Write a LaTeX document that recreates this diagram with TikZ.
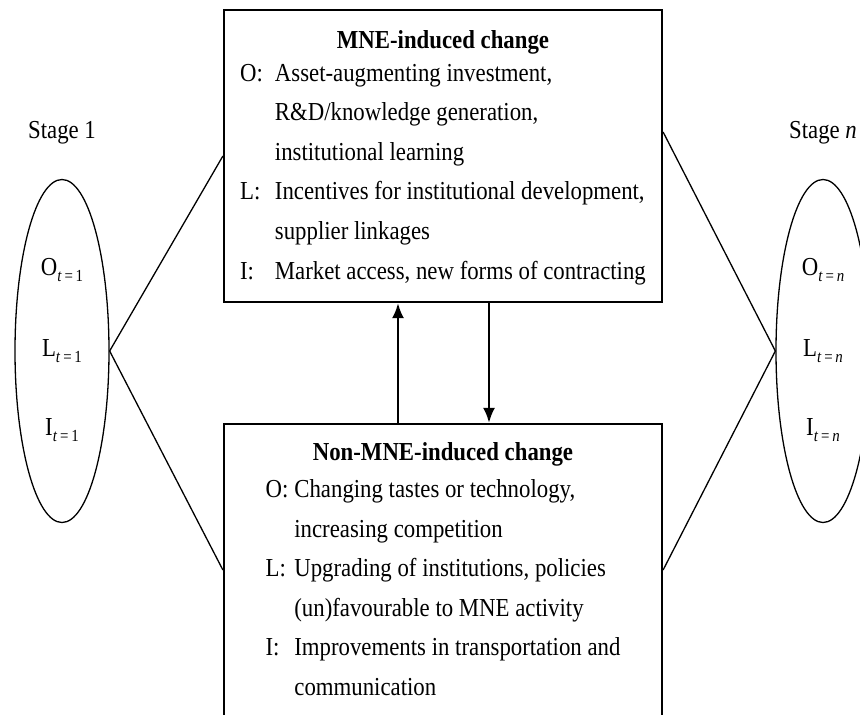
\documentclass[tikz,border=0pt]{standalone}
\usepackage{fontspec}
\setmainfont{Liberation Serif}[FakeStretch=0.88]
\usetikzlibrary{shapes.geometric}
\usetikzlibrary{arrows.meta}
\renewcommand{\arraystretch}{1.28}
\newcommand{\ofsub}[2]{#1\raisebox{-0.55ex}{\fontsize{17}{17}\selectfont\textit{t}\,=\,#2}}

\begin{document}
\begin{tikzpicture}[x=1bp,y=-1bp]\fontsize{26}{31}\selectfont
\tikzstyle{box}=[rectangle,draw,line width=2.2bp,minimum width=438bp,minimum height=292bp,inner sep=0pt]
\tikzstyle{stage}=[ellipse,draw,line width=1.3bp,minimum width=94bp,minimum height=343bp,inner sep=0pt]
\tikzstyle{link}=[line width=1.3bp]
\tikzstyle{flow}=[line width=2.4bp,-{Latex[length=15bp,width=12bp]}]

\path[use as bounding box,clip] (0,0) rectangle (860,715);

\node[box] (mne) at (443,156) {\begin{tabular}{@{}l@{\hspace{12bp}}l@{}}
\multicolumn{2}{c}{\bfseries MNE-induced change}\\[-7bp]
O: & Asset-augmenting investment,\\
   & R\&D/knowledge generation,\\
   & institutional learning\\
L: & Incentives for institutional development,\\
   & supplier linkages\\
I: & Market access, new forms of contracting
\end{tabular}};
\node[box] (non) at (443,570) {\raisebox{3bp}{\begin{tabular}{@{}l@{\hspace{6bp}}l@{}}
\multicolumn{2}{c}{\bfseries Non-MNE-induced change}\\[-2bp]
O: & Changing tastes or technology,\\
   & increasing competition\\
L: & Upgrading of institutions, policies\\
   & (un)favourable to MNE activity\\
I: & Improvements in transportation and\\
   & communication
\end{tabular}}};

\node[stage] (s1) at (62,351) {};
\node[stage] (sn) at (823,351) {};

\node (lab1) at (62,133) {Stage 1};
\node (labn) at (823,133) {Stage \textit{n}};

\node (o1) at (62,270) {\ofsub{O}{1}};
\node (l1) at (62,351) {\ofsub{L}{1}};
\node (i1) at (62,430) {\ofsub{I}{1}};
\node (on) at (823,270) {\ofsub{O}{\textit{n}}};
\node (ln) at (823,351) {\ofsub{L}{\textit{n}}};
\node (in) at (823,430) {\ofsub{I}{\textit{n}}};

\coordinate (mneR) at ([yshift=24bp]mne.east);

\draw[link] (s1.east) -- (mne.west);
\draw[link] (s1.east) -- (non.west);
\draw[link] (sn.west) -- (mneR);
\draw[link] (sn.west) -- (non.east);

\draw[flow] ([xshift=-45bp]non.north) -- ([xshift=-45bp]mne.south);
\draw[flow] ([xshift=46bp]mne.south) -- ([xshift=46bp]non.north);

\end{tikzpicture}
\end{document}
